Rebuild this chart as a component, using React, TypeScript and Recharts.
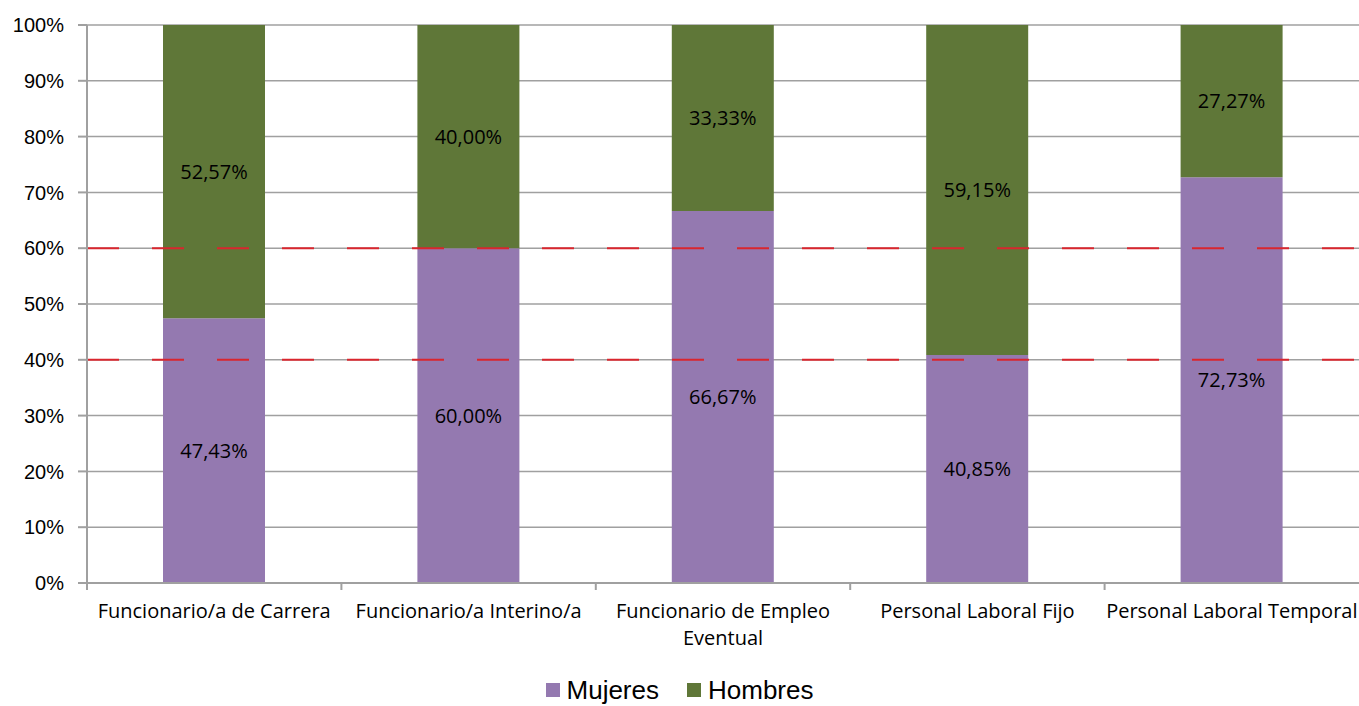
import React from 'react';
import {
  BarChart,
  Bar,
  XAxis,
  YAxis,
  CartesianGrid,
  ReferenceLine,
  Legend,
  LabelList,
} from 'recharts';

// tick labels, with the line break where the original wraps
const categories = [
  'Funcionario/a de Carrera',
  'Funcionario/a Interino/a',
  'Funcionario de Empleo\nEventual',
  'Personal Laboral Fijo',
  'Personal Laboral Temporal',
];
const mujeres = [47.43, 60.0, 66.67, 40.85, 72.73];
const hombres = [52.57, 40.0, 33.33, 59.15, 27.27];
const yTicks = [0, 10, 20, 30, 40, 50, 60, 70, 80, 90, 100];
const thresholds = [40, 60];

const data = categories.map((name, i) => ({ name, mujeres: mujeres[i], hombres: hombres[i] }));

const W = 1359;
const H = 706;
const LEFT = 87;
const BAND = (W - LEFT) / categories.length;
const PURPLE = '#9479b0';
const GREEN = '#5f7738';
const GRID = '#a0a0a0';
const LABEL_FONT = '"Open Sans", "Noto Sans", sans-serif';

const fmt = (v: any) => `${Number(v).toFixed(2).replace('.', ',')}%`;

const CategoryTick = (props: any) => {
  const { x, y, payload } = props;
  const bx = x - BAND / 2;
  const lines = String(payload.value).split('\n');
  return (
    <g>
      <line x1={bx} y1={y} x2={bx} y2={y + 7} stroke={GRID} strokeWidth={2} />
      <text x={x} y={y + 35} textAnchor="middle" fontSize={20} fontFamily={LABEL_FONT} fill="#000">
        {lines.map((l, i) => (
          <tspan key={i} x={x} dy={i ? 27 : 0}>
            {l}
          </tspan>
        ))}
      </text>
    </g>
  );
};

const LegendContent = () => (
  <div
    style={{
      display: 'flex',
      justifyContent: 'center',
      alignItems: 'flex-end',
      height: 33,
      paddingBottom: 3,
      boxSizing: 'border-box',
      fontFamily: '"Liberation Sans", Arial, sans-serif',
      fontSize: 26,
      lineHeight: '26px',
      color: '#000',
    }}
  >
    {[
      { label: 'Mujeres', color: PURPLE },
      { label: 'Hombres', color: GREEN },
    ].map((it, i) => (
      <div key={it.label} style={{ display: 'flex', alignItems: 'center', marginLeft: i ? 28 : 0 }}>
        <span style={{ width: 14, height: 14, background: it.color, marginRight: 7, display: 'inline-block' }} />
        <span>{it.label}</span>
      </div>
    ))}
  </div>
);

export default function App() {
  return (
    <div style={{ position: 'absolute', left: 0, top: 0, width: W, height: H, background: '#fff', overflow: 'hidden' }}>
      <BarChart width={W} height={H} data={data} margin={{ top: 25, right: 0, bottom: 0, left: 0 }} barCategoryGap={0}>
        <CartesianGrid vertical={false} stroke={GRID} strokeWidth={1.5} />
        <YAxis
          width={LEFT}
          domain={[0, 100]}
          ticks={yTicks}
          interval={0}
          tickFormatter={(v) => `${v}%`}
          axisLine={{ stroke: GRID, strokeWidth: 2 }}
          tickLine={{ stroke: GRID, strokeWidth: 2 }}
          tickSize={9}
          tickMargin={14}
          tick={{ fill: '#000', fontSize: 20, fontFamily: '"Liberation Sans", Arial, sans-serif' }}
        />
        <XAxis
          dataKey="name"
          height={90}
          interval={0}
          axisLine={{ stroke: GRID, strokeWidth: 2 }}
          tickLine={false}
          tickSize={0}
          tickMargin={0}
          tick={<CategoryTick />}
        />
        <Legend verticalAlign="bottom" height={33} content={<LegendContent />} />
        <Bar dataKey="mujeres" name="Mujeres" stackId="a" fill={PURPLE} barSize={102} isAnimationActive={false}>
          <LabelList dataKey="mujeres" position="center" formatter={fmt} fill="#000" fontSize={20} fontFamily={LABEL_FONT} />
        </Bar>
        <Bar dataKey="hombres" name="Hombres" stackId="a" fill={GREEN} barSize={102} isAnimationActive={false}>
          <LabelList dataKey="hombres" position="center" formatter={fmt} fill="#000" fontSize={20} fontFamily={LABEL_FONT} />
        </Bar>
        {thresholds.map((t) => (
          <ReferenceLine key={t} y={t} stroke="#d9262e" strokeWidth={2} strokeDasharray="32 33" ifOverflow="extendDomain" />
        ))}
      </BarChart>
    </div>
  );
}
